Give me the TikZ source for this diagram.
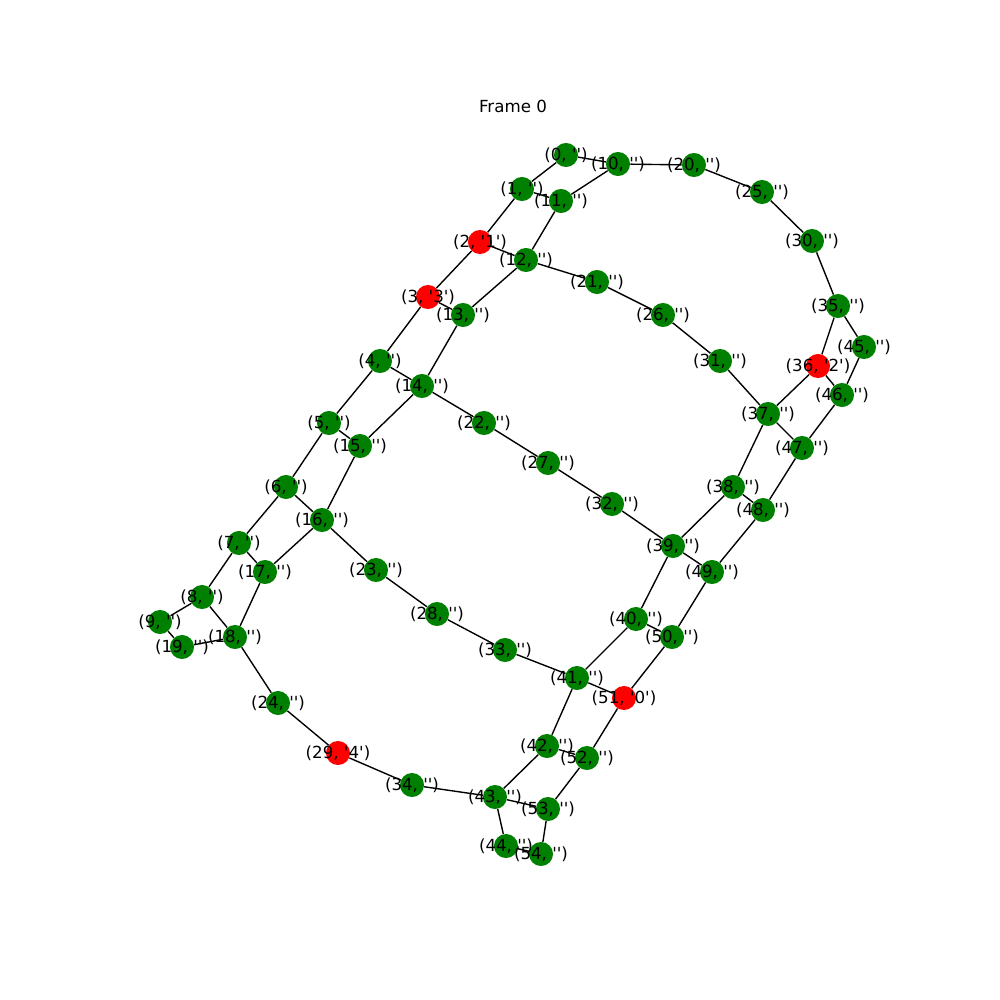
\documentclass[tikz,border=0pt]{standalone}
\usepackage{fontspec}
\setmainfont{DejaVu Sans}[Ligatures=TeXOff]
\usepackage{tikz}
\usepackage{xcolor}
\usetikzlibrary{positioning}
\definecolor{nodegreen}{HTML}{008000}
\definecolor{nodered}{HTML}{FF0000}
\pgfdeclarelayer{bg}
\pgfdeclarelayer{fg}
\pgfsetlayers{bg,main,fg}
\newcommand{\tagged}[2]{(#1, '#2')}
\tikzset{
  vtx/.style={circle, fill=nodegreen, inner sep=0pt, minimum size=17.3bp},
  hit/.style={vtx, fill=nodered},
  lbl/.style={inner sep=0pt, font=\fontsize{12bp}{14bp}\selectfont},
  link/.style={black, line width=1bp}
}

\begin{document}
\begin{tikzpicture}[x=0.72bp, y=-0.72bp]
        \useasboundingbox (0,0) rectangle (1000,1000);
        \node[lbl] (title) at (513,106) {Frame 0};

        \node[vtx] (v0) at (566,155) {};
        \node[vtx] (v1) at (522,189) {};
        \node[hit] (v2) at (480,242) {};
        \node[hit] (v3) at (428,297) {};
        \node[vtx] (v4) at (380,361) {};
        \node[vtx] (v5) at (329,423) {};
        \node[vtx] (v6) at (286,487) {};
        \node[vtx] (v7) at (239,543) {};
        \node[vtx] (v8) at (202,597) {};
        \node[vtx] (v9) at (160,622) {};
        \node[vtx] (v10) at (618,164) {};
        \node[vtx] (v11) at (561,201) {};
        \node[vtx] (v12) at (526,260) {};
        \node[vtx] (v13) at (463,315) {};
        \node[vtx] (v14) at (422,386) {};
        \node[vtx] (v15) at (360,446) {};
        \node[vtx] (v16) at (322,520) {};
        \node[vtx] (v17) at (265,572) {};
        \node[vtx] (v18) at (235,637) {};
        \node[vtx] (v19) at (182,647) {};
        \node[vtx] (v20) at (694,165) {};
        \node[vtx] (v21) at (597,282) {};
        \node[vtx] (v22) at (484,423) {};
        \node[vtx] (v23) at (376,570) {};
        \node[vtx] (v24) at (278,703) {};
        \node[vtx] (v25) at (762,192) {};
        \node[vtx] (v26) at (663,315) {};
        \node[vtx] (v27) at (548,463) {};
        \node[vtx] (v28) at (437,614) {};
        \node[hit] (v29) at (338,753) {};
        \node[vtx] (v30) at (812,241) {};
        \node[vtx] (v31) at (720,361) {};
        \node[vtx] (v32) at (612,504) {};
        \node[vtx] (v33) at (505,650) {};
        \node[vtx] (v34) at (412,785) {};
        \node[vtx] (v35) at (838,306) {};
        \node[hit] (v36) at (818,366) {};
        \node[vtx] (v37) at (768,414) {};
        \node[vtx] (v38) at (733,487) {};
        \node[vtx] (v39) at (673,546) {};
        \node[vtx] (v40) at (636,619) {};
        \node[vtx] (v41) at (577,678) {};
        \node[vtx] (v42) at (547,746) {};
        \node[vtx] (v43) at (495,797) {};
        \node[vtx] (v44) at (506,846) {};
        \node[vtx] (v45) at (864,347) {};
        \node[vtx] (v46) at (842,395) {};
        \node[vtx] (v47) at (802,448) {};
        \node[vtx] (v48) at (763,510) {};
        \node[vtx] (v49) at (712,572) {};
        \node[vtx] (v50) at (672,637) {};
        \node[hit] (v51) at (624,698) {};
        \node[vtx] (v52) at (587,758) {};
        \node[vtx] (v53) at (548,809) {};
        \node[vtx] (v54) at (541,854) {};

        % Edges behind the nodes
        \begin{pgfonlayer}{bg}
        \draw[link] (v0) -- (v1) -- (v2) -- (v3) -- (v4) -- (v5) -- (v6) -- (v7) -- (v8) -- (v9);
        \draw[link] (v10) -- (v11) -- (v12) -- (v13) -- (v14) -- (v15) -- (v16) -- (v17) -- (v18) -- (v19);
        \draw[link] (v35) -- (v36) -- (v37) -- (v38) -- (v39) -- (v40) -- (v41) -- (v42) -- (v43) -- (v44);
        \draw[link] (v45) -- (v46) -- (v47) -- (v48) -- (v49) -- (v50) -- (v51) -- (v52) -- (v53) -- (v54);
        \draw[link] (v0) -- (v10) -- (v20) -- (v25) -- (v30) -- (v35) -- (v45);
        \draw[link] (v2) -- (v12) -- (v21) -- (v26) -- (v31) -- (v37) -- (v47);
        \draw[link] (v4) -- (v14) -- (v22) -- (v27) -- (v32) -- (v39) -- (v49);
        \draw[link] (v6) -- (v16) -- (v23) -- (v28) -- (v33) -- (v41) -- (v51);
        \draw[link] (v8) -- (v18) -- (v24) -- (v29) -- (v34) -- (v43) -- (v53);
        \draw[link] (v1) -- (v11);
        \draw[link] (v3) -- (v13);
        \draw[link] (v5) -- (v15);
        \draw[link] (v7) -- (v17);
        \draw[link] (v9) -- (v19);
        \draw[link] (v36) -- (v46);
        \draw[link] (v38) -- (v48);
        \draw[link] (v40) -- (v50);
        \draw[link] (v42) -- (v52);
        \draw[link] (v44) -- (v54);
        \end{pgfonlayer}

        % Labels on top
        \begin{pgfonlayer}{fg}
        \node[lbl] at (v0) {\tagged{0}{}};
        \node[lbl] at (v1) {\tagged{1}{}};
        \node[lbl] at (v2) {\tagged{2}{1}};
        \node[lbl] at (v3) {\tagged{3}{3}};
        \node[lbl] at (v4) {\tagged{4}{}};
        \node[lbl] at (v5) {\tagged{5}{}};
        \node[lbl] at (v6) {\tagged{6}{}};
        \node[lbl] at (v7) {\tagged{7}{}};
        \node[lbl] at (v8) {\tagged{8}{}};
        \node[lbl] at (v9) {\tagged{9}{}};
        \node[lbl] at (v10) {\tagged{10}{}};
        \node[lbl] at (v11) {\tagged{11}{}};
        \node[lbl] at (v12) {\tagged{12}{}};
        \node[lbl] at (v13) {\tagged{13}{}};
        \node[lbl] at (v14) {\tagged{14}{}};
        \node[lbl] at (v15) {\tagged{15}{}};
        \node[lbl] at (v16) {\tagged{16}{}};
        \node[lbl] at (v17) {\tagged{17}{}};
        \node[lbl] at (v18) {\tagged{18}{}};
        \node[lbl] at (v19) {\tagged{19}{}};
        \node[lbl] at (v20) {\tagged{20}{}};
        \node[lbl] at (v21) {\tagged{21}{}};
        \node[lbl] at (v22) {\tagged{22}{}};
        \node[lbl] at (v23) {\tagged{23}{}};
        \node[lbl] at (v24) {\tagged{24}{}};
        \node[lbl] at (v25) {\tagged{25}{}};
        \node[lbl] at (v26) {\tagged{26}{}};
        \node[lbl] at (v27) {\tagged{27}{}};
        \node[lbl] at (v28) {\tagged{28}{}};
        \node[lbl] at (v29) {\tagged{29}{4}};
        \node[lbl] at (v30) {\tagged{30}{}};
        \node[lbl] at (v31) {\tagged{31}{}};
        \node[lbl] at (v32) {\tagged{32}{}};
        \node[lbl] at (v33) {\tagged{33}{}};
        \node[lbl] at (v34) {\tagged{34}{}};
        \node[lbl] at (v35) {\tagged{35}{}};
        \node[lbl] at (v36) {\tagged{36}{2}};
        \node[lbl] at (v37) {\tagged{37}{}};
        \node[lbl] at (v38) {\tagged{38}{}};
        \node[lbl] at (v39) {\tagged{39}{}};
        \node[lbl] at (v40) {\tagged{40}{}};
        \node[lbl] at (v41) {\tagged{41}{}};
        \node[lbl] at (v42) {\tagged{42}{}};
        \node[lbl] at (v43) {\tagged{43}{}};
        \node[lbl] at (v44) {\tagged{44}{}};
        \node[lbl] at (v45) {\tagged{45}{}};
        \node[lbl] at (v46) {\tagged{46}{}};
        \node[lbl] at (v47) {\tagged{47}{}};
        \node[lbl] at (v48) {\tagged{48}{}};
        \node[lbl] at (v49) {\tagged{49}{}};
        \node[lbl] at (v50) {\tagged{50}{}};
        \node[lbl] at (v51) {\tagged{51}{0}};
        \node[lbl] at (v52) {\tagged{52}{}};
        \node[lbl] at (v53) {\tagged{53}{}};
        \node[lbl] at (v54) {\tagged{54}{}};
        \end{pgfonlayer}
\end{tikzpicture}
\end{document}
